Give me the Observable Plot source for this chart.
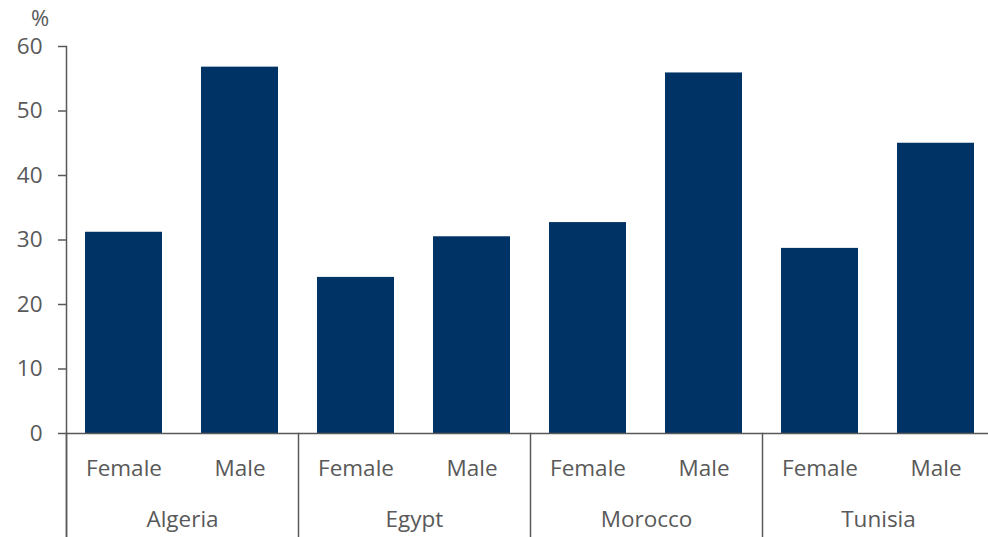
<!DOCTYPE html>
<html><head><meta charset="utf-8">
<script src="https://cdn.jsdelivr.net/npm/d3@7"></script>
<script src="https://cdn.jsdelivr.net/npm/@observablehq/plot@0.6"></script>
<style>
body{margin:0;background:#fff;}
#wrap{position:relative;width:988px;height:537px;font-family:"Open Sans",sans-serif;}
#unit{position:absolute;left:31px;top:2px;font-size:22px;color:#595959;}
</style></head><body>
<div id="wrap"><div id="unit">%</div></div>
<script>
const countries = ["Algeria", "Egypt", "Morocco", "Tunisia"];
const sexes = ["Female", "Male"];
const femaleValues = [31.2, 24.2, 32.7, 28.7];
const maleValues = [56.8, 30.5, 55.9, 45.0];
const yTicks = [0, 10, 20, 30, 40, 50, 60];

const data = countries.flatMap((c, i) => [
  {country: c, sex: "Female", value: femaleValues[i]},
  {country: c, sex: "Male", value: maleValues[i]}
]);
const ink = "#595959";
const chart = Plot.plot({
  width: 988, height: 537,
  marginLeft: 66, marginRight: -6, marginTop: 46, marginBottom: 104,
  style: {fontFamily: "Open Sans", fontSize: "22.5px", color: ink, background: "#fff", overflow: "visible"},
  fx: {domain: countries, padding: 0},
  x: {domain: sexes, paddingInner: 0.336, paddingOuter: 0.168},
  y: {domain: [0, 60]},
  marks: [
    Plot.barY(data, {fx: "country", x: "sex", y: "value", fill: "#003365"}),
    Plot.ruleY([0], {stroke: ink, strokeWidth: 1.5}),
    Plot.frame({anchor: "left", facet: "super", stroke: ink, strokeWidth: 1.5, insetBottom: -104}),
    Plot.frame({anchor: "left", stroke: ink, strokeWidth: 1.5, insetTop: 387, insetBottom: -104}),
    Plot.axisY({ticks: yTicks, tickSize: 8, tickPadding: 16, label: null, stroke: ink, strokeWidth: 1.5}),
    Plot.axisX({tickSize: 0, tickPadding: 27, label: null}),
    Plot.axisFx({anchor: "bottom", tickSize: 0, tickPadding: 78, label: null})
  ]
});
document.getElementById("wrap").appendChild(chart);
</script>
</body></html>
